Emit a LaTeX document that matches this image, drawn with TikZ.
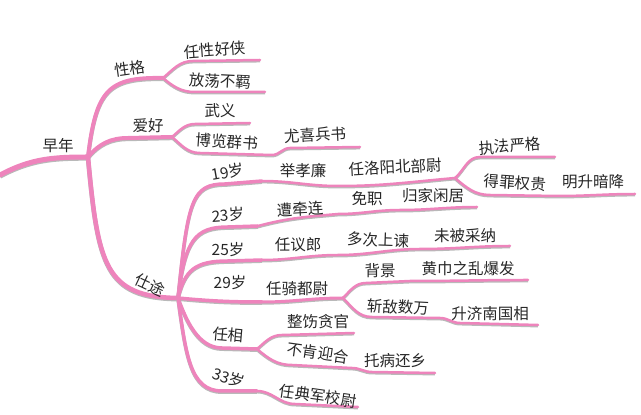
\documentclass[tikz,border=0pt]{standalone}
\usepackage{fontspec}
\setmainfont{Noto Sans CJK SC}
\definecolor{mmPink}{RGB}{238,132,188}
\definecolor{mmShadow}{RGB}{185,185,185}
\tikzset{
  branch/.style={draw=mmPink, line width=#1, line cap=round, line join=round,
    preaction={draw=mmShadow, line width=#1, transform canvas={yshift=-1.2pt}}},
  branch/.default=2.5pt,
  topic/.style={inner sep=0pt, text=black!85, font=\fontsize{15.5}{18}\selectfont}
}
\begin{document}
\begin{tikzpicture}[x=1pt,y=1pt]
  \useasboundingbox (0,0) rectangle (641,415);
  % Junctions
  \coordinate (rootIn) at (0,240);
  \coordinate (j0) at (88,258);
  \coordinate (j1) at (163,337);
  \coordinate (j2) at (172,278);
  \coordinate (j3) at (178,117);
  \coordinate (j4) at (455,237);
  \coordinate (j5) at (343,117);
  \coordinate (j6) at (257,66);
  % Line ends
  \coordinate (kneeChivalry) at (193,354);  \coordinate (endChivalry) at (260,355);
  \coordinate (kneeUnruly) at (195,323);    \coordinate (endUnruly) at (265,323);
  \coordinate (kneeHobby) at (128,277);
  \coordinate (kneeMartial) at (195,291);   \coordinate (endMartial) at (250,292);
  \coordinate (kneeReading) at (200,262);   \coordinate (endReading) at (272,260);
  \coordinate (kneeMilitary) at (290,267);  \coordinate (endMilitary) at (360,268);
  \coordinate (knee19) at (225,231);        \coordinate (end19) at (262,234);
  \coordinate (endXiaolian) at (338,229);
  \coordinate (kneeStrict) at (480,258);    \coordinate (endStrict) at (555,258);
  \coordinate (kneeOffend) at (490,220);    \coordinate (endOffend) at (558,219);
  \coordinate (endDemote) at (635,221);
  \coordinate (knee23) at (228,188);        \coordinate (end23) at (258,189);
  \coordinate (endImplicated) at (338,201);
  \coordinate (endDismissed) at (400,205);
  \coordinate (endHome) at (477,208);
  \coordinate (knee25) at (228,154);        \coordinate (end25) at (262,155);
  \coordinate (endYilang) at (338,160);
  \coordinate (endRemonstrate) at (420,166);
  \coordinate (endRejected) at (510,169);
  \coordinate (end29) at (262,113);
  \coordinate (kneeBackground) at (366,132); \coordinate (endBackground) at (410,134);
  \coordinate (endTurban) at (528,135);
  \coordinate (kneeEnemies) at (372,98);    \coordinate (endEnemies) at (440,97);
  \coordinate (kneeJinan) at (460,92);      \coordinate (endJinan) at (538,90);
  \coordinate (kneeChancellor) at (222,67);
  \coordinate (kneeCorrupt) at (282,80);    \coordinate (endCorrupt) at (354,82);
  \coordinate (kneeRefuse) at (292,50);     \coordinate (endRefuse) at (352,47);
  \coordinate (kneeSick) at (372,43);       \coordinate (endSick) at (435,42);
  \coordinate (knee33) at (222,24);         \coordinate (end33) at (257,24);
  \coordinate (kneeColonel) at (295,11);    \coordinate (endColonel) at (358,8);

  % Main branches
  \path[branch=5pt] (rootIn) to[out=28,in=180] (j0);
  \path[branch=4pt] (j0) .. controls (96,325) and (108,338) .. (j1);
  \path[branch=4pt] (j0) to[out=50,in=180] (kneeHobby) -- (j2);
  \path[branch=4.5pt] (j0) .. controls (98,150) and (105,118) .. (j3);
  % Early years
  \path[branch] (j1) to[out=40,in=180] (kneeChivalry) -- (endChivalry);
  \path[branch] (j1) to[out=-40,in=180] (kneeUnruly) -- (endUnruly);
  \path[branch] (j2) to[out=40,in=180] (kneeMartial) -- (endMartial);
  \path[branch] (j2) to[out=-40,in=180] (kneeReading) -- (endReading)
    to[out=0,in=180] (kneeMilitary) -- (endMilitary);
  % Career
  \path[branch=3.5pt] (j3) .. controls (188,215) and (192,231) .. (knee19) -- (end19);
  \path[branch] (end19) to[out=0,in=180] (endXiaolian) to[out=0,in=185] (j4);
  \path[branch] (j4) to[out=40,in=180] (kneeStrict) -- (endStrict);
  \path[branch] (j4) to[out=-40,in=180] (kneeOffend) -- (endOffend)
    to[out=0,in=180] (endDemote);
  \path[branch=3.5pt] (j3) .. controls (185,175) and (195,188) .. (knee23) -- (end23);
  \path[branch] (end23) to[out=15,in=185] (endImplicated) to[out=0,in=180] (endDismissed)
    to[out=0,in=180] (endHome);
  \path[branch=3.5pt] (j3) .. controls (185,145) and (195,154) .. (knee25) -- (end25);
  \path[branch] (end25) to[out=0,in=180] (endYilang) to[out=0,in=180] (endRemonstrate)
    to[out=0,in=180] (endRejected);
  \path[branch=3.5pt] (j3) .. controls (210,114) and (230,113) .. (end29);
  \path[branch=3pt] (end29) to[out=0,in=180] (j5);
  \path[branch] (j5) to[out=45,in=180] (kneeBackground) -- (endBackground)
    to[out=0,in=180] (endTurban);
  \path[branch] (j5) to[out=-45,in=180] (kneeEnemies) -- (endEnemies)
    to[out=0,in=180] (kneeJinan) -- (endJinan);
  \path[branch=3.5pt] (j3) .. controls (186,95) and (198,67) .. (kneeChancellor) -- (j6);
  \path[branch] (j6) to[out=40,in=180] (kneeCorrupt) -- (endCorrupt);
  \path[branch] (j6) to[out=-40,in=180] (kneeRefuse) -- (endRefuse)
    to[out=0,in=180] (kneeSick) -- (endSick);
  \path[branch=3.5pt] (j3) .. controls (186,60) and (190,24) .. (knee33) -- (end33);
  \path[branch] (end33) to[out=0,in=180] (kneeColonel) -- (endColonel);

  % Labels
  \node[topic] (early) at (58,269) {早年};
  \node[topic,rotate=8] (nature) at (130,346) {性格};
  \node[topic,rotate=4] (chivalry) at (215,365) {任性好侠};
  \node[topic,rotate=-3] (unruly) at (220,334) {放荡不羁};
  \node[topic] (hobby) at (148,289) {爱好};
  \node[topic] (martial) at (220,304) {武义};
  \node[topic,rotate=-4] (reading) at (227,273) {博览群书};
  \node[topic,rotate=3] (military) at (315,280) {尤喜兵书};
  \node[topic,rotate=-25] (career) at (150,130) {仕途};
  \node[topic,rotate=10] (age19) at (228,243) {19岁};
  \node[topic] (xiaolian) at (303,244) {举孝廉};
  \node[topic,rotate=3] (luoyang) at (395,248) {任洛阳北部尉};
  \node[topic,rotate=4] (strict) at (510,269) {执法严格};
  \node[topic,rotate=-4] (offend) at (515,232) {得罪权贵};
  \node[topic] (demote) at (593,233) {明升暗降};
  \node[topic,rotate=4] (age23) at (228,200) {23岁};
  \node[topic,rotate=3] (implicated) at (300,206) {遭牵连};
  \node[topic] (dismissed) at (367,216) {免职};
  \node[topic] (home) at (433,219) {归家闲居};
  \node[topic] (age25) at (228,165) {25岁};
  \node[topic] (yilang) at (298,170) {任议郎};
  \node[topic,rotate=-2] (remonstrate) at (378,175) {多次上谏};
  \node[topic] (rejected) at (465,179) {未被采纳};
  \node[topic] (age29) at (230,132) {29岁};
  \node[topic] (cavalry) at (297,126) {任骑都尉};
  \node[topic] (background) at (380,144) {背景};
  \node[topic] (turban) at (468,146) {黄巾之乱爆发};
  \node[topic,rotate=-3] (enemies) at (398,108) {斩敌数万};
  \node[topic] (jinan) at (490,101) {升济南国相};
  \node[topic,rotate=-5] (chancellor) at (228,80) {任相};
  \node[topic] (corrupt) at (318,93) {整饬贪官};
  \node[topic,rotate=-8] (refuse) at (318,62) {不肯迎合};
  \node[topic] (sick) at (395,54) {托病还乡};
  \node[topic,rotate=-18] (age33) at (229,37) {33岁};
  \node[topic,rotate=-8] (colonel) at (318,19) {任典军校尉};
\end{tikzpicture}
\end{document}
